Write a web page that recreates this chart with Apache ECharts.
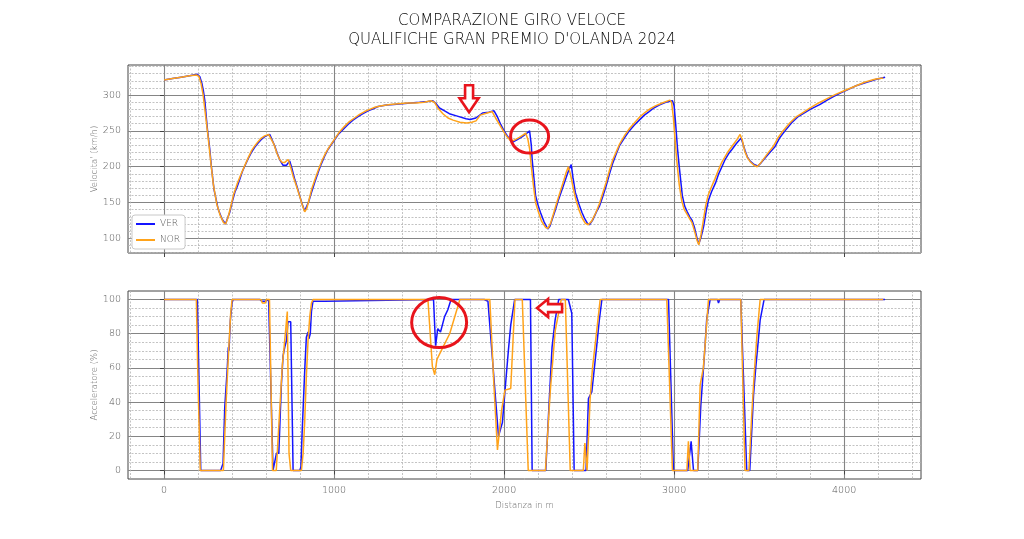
<!DOCTYPE html>
<html><head><meta charset="utf-8">
<script src="https://cdn.jsdelivr.net/npm/echarts@6/dist/echarts.min.js"></script>
<style>html,body{margin:0;padding:0;background:#fff}#c{width:1024px;height:539px}</style>
</head><body><div id="c"></div>
<script>
// ---------- DATA ----------
const drivers = ['VER', 'NOR'];
const titleLines = ['COMPARAZIONE GIRO VELOCE', "QUALIFICHE GRAN PREMIO D'OLANDA 2024"];

const verSpeed = [[0,321],[50,323],[100,325],[150,327],[196,329],[210,326],[222,317],[232,305],[240,292],[250,265],[256,250],[262,249],[270,222],[278,201],[294,168],[318,141],[341,127],[361,120],[386,136],[400,150],[416,164],[430,172],[445,182],[460,193],[475,201],[494,211],[514,220],[533,227],[553,233],[572,238],[592,242],[610,244],[622,245],[630,243],[651,229],[665,219],[680,210],[700,202],[720,202],[739,208],[754,196],[769,182],[785,170],[798,159],[812,148],[827,138],[837,140],[852,152],[867,164],[886,178],[906,192],[925,204],[945,215],[964,224],[984,231],[1004,238],[1024,245],[1053,252],[1082,259],[1111,265],[1141,270],[1170,274],[1200,278],[1230,281],[1259,284],[1308,286],[1350,287],[1400,288],[1450,289],[1503,290],[1550,291],[1581,292],[1600,288],[1620,282],[1650,278],[1678,274],[1720,271],[1776,267],[1800,266],[1834,268],[1873,275],[1910,276],[1941,278],[1960,270],[1980,259],[2000,250],[2019,243],[2048,234],[2078,238],[2107,242],[2130,246],[2150,250],[2160,230],[2165,210],[2175,185],[2185,160],[2200,146],[2214,136],[2235,123],[2257,113],[2270,117],[2285,128],[2302,140],[2320,154],[2341,168],[2365,185],[2380,195],[2395,203],[2405,185],[2419,164],[2440,148],[2458,136],[2475,127],[2490,121],[2502,119],[2520,125],[2545,138],[2561,145],[2580,158],[2600,173],[2620,190],[2639,205],[2660,218],[2678,229],[2710,241],[2736,250],[2765,258],[2795,265],[2825,272],[2853,277],[2880,282],[2912,286],[2950,290],[2990,292],[3000,285],[3009,260],[3020,225],[3028,205],[3048,160],[3062,145],[3077,137],[3092,130],[3106,125],[3120,115],[3135,100],[3145,92],[3160,103],[3174,117],[3190,140],[3203,154],[3220,165],[3243,177],[3262,190],[3281,200],[3300,210],[3320,218],[3340,224],[3365,232],[3394,240],[3405,238],[3418,222],[3432,213],[3447,208],[3470,203],[3492,201],[3510,205],[3535,212],[3560,219],[3593,228],[3620,240],[3652,250],[3690,261],[3730,270],[3741,272],[3800,280],[3859,287],[3900,293],[3937,298],[3980,303],[4016,307],[4070,313],[4133,318],[4190,322],[4241,325]];

const norSpeed = [[0,321],[50,323],[100,325],[150,327],[190,328],[205,326],[218,316],[230,300],[245,270],[260,240],[275,206],[290,175],[310,148],[330,132],[350,122],[362,120],[375,128],[390,142],[410,162],[430,176],[450,188],[470,199],[494,212],[514,222],[533,229],[553,235],[572,240],[592,243],[615,245],[625,244],[645,232],[665,218],[680,210],[695,206],[710,206],[730,210],[745,199],[760,186],[780,172],[800,157],[815,145],[827,137],[840,142],[855,156],[870,170],[890,184],[910,197],[930,209],[950,219],[970,227],[990,234],[1010,241],[1030,248],[1060,256],[1090,263],[1120,268],[1150,273],[1180,277],[1210,280],[1240,283],[1280,285],[1330,287],[1380,288],[1430,289],[1480,289],[1530,290],[1570,292],[1590,290],[1610,282],[1640,274],[1670,268],[1700,265],[1740,262],[1780,261],[1810,262],[1835,264],[1860,272],[1900,275],[1930,277],[1950,268],[1975,258],[2000,248],[2020,241],[2040,236],[2060,237],[2090,241],[2110,244],[2127,247],[2140,238],[2150,225],[2160,200],[2172,175],[2185,150],[2200,138],[2220,124],[2245,115],[2258,114],[2275,122],[2290,134],[2310,150],[2330,165],[2350,180],[2365,192],[2378,200],[2390,190],[2405,172],[2420,156],[2440,140],[2460,128],[2478,121],[2495,119],[2515,124],[2540,136],[2560,148],[2580,163],[2600,178],[2620,195],[2640,210],[2660,221],[2680,232],[2710,244],[2740,254],[2770,262],[2800,270],[2830,276],[2860,281],[2890,285],[2930,289],[2975,293],[2985,290],[2995,270],[3005,240],[3015,210],[3030,175],[3045,152],[3060,140],[3075,134],[3090,128],[3105,122],[3120,110],[3135,97],[3145,91],[3158,105],[3170,122],[3185,145],[3200,160],[3220,172],[3240,183],[3260,195],[3280,206],[3300,214],[3320,222],[3345,230],[3370,238],[3388,245],[3400,238],[3415,222],[3430,213],[3447,207],[3470,202],[3488,200],[3505,204],[3530,212],[3555,220],[3585,229],[3610,240],[3640,250],[3680,261],[3720,270],[3760,276],[3800,282],[3850,289],[3900,295],[3950,301],[4000,306],[4060,312],[4120,318],[4180,322],[4230,324]];

const verThrottle = [[0,100],[196,100],[206,50],[216,0],[333,0],[340,2],[347,4],[357,37],[372,60],[378,72],[382,70],[390,88],[400,98],[406,100],[563,100],[575,99],[595,99],[605,100],[615,100],[641,0],[652,0],[661,10],[675,10],[690,50],[700,67],[712,73],[720,76],[729,87],[745,87],[759,0],[798,0],[805,2],[812,22],[828,60],[837,78],[847,81],[852,77],[860,80],[867,93],[876,99],[945,99],[950,100],[1585,100],[1597,73],[1610,83],[1626,81],[1650,90],[1669,94],[1688,100],[1883,100],[1890,99],[1905,99],[1916,100],[1967,20],[1990,28],[2009,51],[2025,70],[2039,85],[2062,100],[2155,100],[2165,0],[2245,0],[2265,40],[2282,72],[2300,88],[2321,100],[2378,100],[2398,92],[2412,0],[2482,0],[2496,42],[2516,46],[2545,73],[2560,88],[2575,100],[2967,100],[2996,0],[3080,0],[3100,17],[3114,0],[3139,0],[3157,38],[3172,59],[3180,70],[3192,89],[3212,100],[3255,100],[3261,98],[3268,100],[3392,100],[3427,0],[3445,0],[3467,44],[3480,60],[3496,77],[3506,88],[3515,89],[3529,100],[4241,100]];

const norThrottle = [[0,100],[190,100],[200,50],[213,0],[349,0],[365,40],[380,70],[392,92],[400,100],[570,100],[578,98],[595,98],[602,100],[620,100],[638,0],[660,0],[680,35],[696,62],[706,72],[712,72],[718,85],[725,93],[730,50],[735,10],[745,0],[808,0],[818,10],[827,28],[837,55],[847,76],[857,90],[867,98],[876,100],[1552,100],[1578,61],[1592,56],[1605,65],[1640,72],[1680,80],[1740,100],[1916,100],[1940,50],[1961,12],[1985,35],[2005,47],[2039,48],[2064,100],[2107,100],[2142,0],[2243,0],[2272,47],[2301,82],[2336,100],[2360,100],[2389,0],[2466,0],[2475,16],[2482,16],[2488,0],[2496,0],[2506,42],[2520,60],[2545,82],[2565,100],[2957,100],[2990,0],[3075,0],[3084,17],[3094,0],[3139,0],[3153,50],[3172,60],[3202,100],[3392,100],[3417,0],[3440,0],[3455,30],[3470,55],[3487,79],[3506,100],[4230,100]];

const xMajorTicks = [0, 1000, 2000, 3000, 4000];
const xMinorTicks = [-200,200,400,600,800,1200,1400,1600,1800,2200,2400,2600,2800,3200,3400,3600,3800,4200,4400];
const speedMajorTicks = [100, 150, 200, 250, 300];
const speedMinorTicks = [80,90,110,120,130,140,160,170,180,190,210,220,230,240,260,270,280,290,310,320,330,340];
const thrMajorTicks = [0, 20, 40, 60, 80, 100];
const thrMinorTicks = [5,10,15,25,30,35,45,50,55,65,70,75,85,90,95];
const xRange = [-212, 4452];
const speedRange = [79.5, 342];
const thrRange = [-5, 105];
const axisNames = { speed: "Velocita' (km/h)", thr: 'Acceleratore (%)', x: 'Distanza in m' };

// ---------- CHART ----------
const FONT = 'DejaVu Sans';
const colors = { VER: '#1414ff', NOR: '#ffa31a' };
const chart = echarts.init(document.getElementById('c'), null, { renderer: 'canvas' });

function minorAxis(grid, range, ticks, pos) {
  return { type: 'value', gridIndex: grid, position: pos, min: range[0], max: range[1],
    axisLine: { show: false }, axisTick: { show: false, customValues: ticks },
    axisLabel: { show: false, customValues: ticks },
    splitLine: { show: true, lineStyle: { color: '#b4b4b4', width: 0.8, type: [2, 1.5] } } };
}
function majorAxis(grid, range, ticks, pos, showLabel, extra) {
  return Object.assign({ type: 'value', gridIndex: grid, position: pos, min: range[0], max: range[1],
    axisLine: { show: false },
    axisTick: { show: true, inside: false, length: 4, customValues: ticks, lineStyle: { color: '#444', width: 1 } },
    axisLabel: { show: showLabel, customValues: ticks, formatter: v => String(v), color: '#555', fontFamily: FONT, fontSize: 9.5, fontWeight: 200, margin: 7 },
    splitLine: { show: true, lineStyle: { color: '#858585', width: 1.1 } } }, extra || {});
}

const grids = [
  { left: 128, top: 65, width: 793, height: 188, show: true, borderColor: '#444', borderWidth: 1, backgroundColor: 'transparent' },
  { left: 128, top: 291, width: 793, height: 188, show: true, borderColor: '#444', borderWidth: 1, backgroundColor: 'transparent' }
];

const nameStyle = { color: '#666', fontFamily: FONT, fontSize: 8.5, fontWeight: 200 };

const option = {
  animation: false,
  backgroundColor: '#fff',
  title: [
    { text: titleLines[0], left: 'center', top: 9, textStyle: { fontFamily: FONT, fontWeight: 200, fontSize: 15, color: '#000' } },
    { text: titleLines[1], left: 'center', top: 28, textStyle: { fontFamily: FONT, fontWeight: 200, fontSize: 15, color: '#000' } }
  ],
  grid: grids,
  legend: {
    data: drivers, orient: 'vertical', left: 132, top: 215,
    icon: 'rect', itemWidth: 19, itemHeight: 2, itemGap: 6,
    padding: [4, 5, 4, 4], backgroundColor: '#fff', borderColor: '#c8c8c8', borderWidth: 1, borderRadius: 3,
    textStyle: { color: '#555', fontFamily: FONT, fontSize: 9, fontWeight: 200, lineHeight: 10 }
  },
  xAxis: [
    minorAxis(0, xRange, xMinorTicks, 'top'),
    majorAxis(0, xRange, xMajorTicks, 'bottom', false),
    minorAxis(1, xRange, xMinorTicks, 'top'),
    majorAxis(1, xRange, xMajorTicks, 'bottom', true, { name: axisNames.x, nameLocation: 'middle', nameGap: 22, nameMoveOverlap: false, nameTextStyle: nameStyle })
  ],
  yAxis: [
    minorAxis(0, speedRange, speedMinorTicks, 'right'),
    majorAxis(0, speedRange, speedMajorTicks, 'left', true, { name: axisNames.speed, nameLocation: 'middle', nameGap: 29, nameMoveOverlap: false, nameTextStyle: nameStyle }),
    minorAxis(1, thrRange, thrMinorTicks, 'right'),
    majorAxis(1, thrRange, thrMajorTicks, 'left', true, { name: axisNames.thr, nameLocation: 'middle', nameGap: 29, nameMoveOverlap: false, nameTextStyle: nameStyle })
  ],
  series: [
    { name: 'VER', type: 'line', xAxisIndex: 1, yAxisIndex: 1, data: verSpeed, showSymbol: false, color: colors.VER, lineStyle: { width: 1.5, color: colors.VER } },
    { name: 'NOR', type: 'line', xAxisIndex: 1, yAxisIndex: 1, data: norSpeed, showSymbol: false, color: colors.NOR, lineStyle: { width: 1.5, color: colors.NOR } },
    { name: 'VER', type: 'line', xAxisIndex: 3, yAxisIndex: 3, data: verThrottle, showSymbol: false, color: colors.VER, lineStyle: { width: 1.5, color: colors.VER } },
    { name: 'NOR', type: 'line', xAxisIndex: 3, yAxisIndex: 3, data: norThrottle, showSymbol: false, color: colors.NOR, lineStyle: { width: 1.5, color: colors.NOR } }
  ]
};
chart.setOption(option);

// ---------- red annotations anchored in data space ----------
const RED = '#e8141c';
const p1 = chart.convertToPixel({ xAxisIndex: 1, yAxisIndex: 1 }, [1794, 276]);   // down arrow tip
const p2 = chart.convertToPixel({ xAxisIndex: 1, yAxisIndex: 1 }, [2150, 242]);   // circle
const p3 = chart.convertToPixel({ xAxisIndex: 3, yAxisIndex: 3 }, [1618, 86.5]);  // ellipse bottom
const p4 = chart.convertToPixel({ xAxisIndex: 3, yAxisIndex: 3 }, [2194, 95]);    // left arrow tip
const arrowStyle = { fill: '#fff', stroke: RED, lineWidth: 2.6, lineJoin: 'miter' };
chart.setOption({
  graphic: [
    { type: 'polygon', z: 100, x: p1[0], y: p1[1],
      shape: { points: [[0,0],[-9.5,-14],[-4,-14],[-4,-27],[4,-27],[4,-14],[9.5,-14]] }, style: arrowStyle },
    { type: 'ellipse', z: 100, shape: { cx: p2[0], cy: p2[1], rx: 19, ry: 16.5 }, style: { fill: 'none', stroke: RED, lineWidth: 3 } },
    { type: 'ellipse', z: 100, shape: { cx: p3[0], cy: p3[1], rx: 27.5, ry: 25 }, style: { fill: 'none', stroke: RED, lineWidth: 3 } },
    { type: 'polygon', z: 100, x: p4[0], y: p4[1],
      shape: { points: [[0,0],[11,-9],[11,-4],[25,-4],[25,4],[11,4],[11,9]] }, style: arrowStyle }
  ]
});
</script>
</body></html>
